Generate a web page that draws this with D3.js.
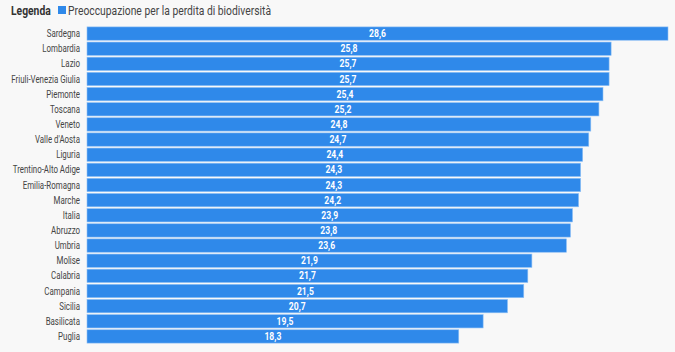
<!DOCTYPE html>
<html><head><meta charset="utf-8">
<script src="https://cdn.jsdelivr.net/npm/d3@7"></script>
<style>
html,body{margin:0;padding:0;background:#f8f8f8;}
svg{display:block;}
text{font-family:Roboto,"Noto Sans",sans-serif;}
</style></head><body>
<svg id="c" width="675" height="352"></svg>
<script>
const regions = ["Sardegna","Lombardia","Lazio","Friuli-Venezia Giulia","Piemonte","Toscana","Veneto","Valle d'Aosta","Liguria","Trentino-Alto Adige","Emilia-Romagna","Marche","Italia","Abruzzo","Umbria","Molise","Calabria","Campania","Sicilia","Basilicata","Puglia"];
const values = [28.6,25.8,25.7,25.7,25.4,25.2,24.8,24.7,24.4,24.3,24.3,24.2,23.9,23.8,23.6,21.9,21.7,21.5,20.7,19.5,18.3];
const seriesName = "Preoccupazione per la perdita di biodiversità";
const legendTitle = "Legenda";

const svg = d3.select("#c");
const color = "#2f89ea";
const x = d3.scaleLinear().domain([0, 28.6]).range([87, 668]);
const y = d3.scaleBand().domain(regions).range([26, 344]).paddingInner(0.12).paddingOuter(0.06);
const sx = 0.86;

// legend
const lg = svg.append("g").attr("transform","translate(11,15)");
lg.append("text").attr("transform",`scale(${sx},1)`).attr("font-size",12).attr("font-weight","bold").attr("fill","#333").text(legendTitle);
lg.append("rect").attr("x",47).attr("y",-9).attr("width",8).attr("height",8).attr("fill",color);
lg.append("text").attr("transform",`translate(57,0) scale(${sx},1)`).attr("font-size",12).attr("fill","#444").text(seriesName);

// bars
svg.append("g").selectAll("rect").data(values).join("rect")
  .attr("x", x(0)).attr("y",(d,i)=>y(regions[i]))
  .attr("width", d=>x(d)-x(0)).attr("height", y.bandwidth())
  .attr("fill", color).attr("stroke","#8fc0f5").attr("stroke-width",0.6);

// value labels
svg.append("g").selectAll("text").data(values).join("text")
  .attr("transform",(d,i)=>`translate(${(x(0)+x(d))/2},${y(regions[i])+y.bandwidth()/2}) scale(${sx},1)`)
  .attr("dy","0.35em").attr("text-anchor","middle").attr("font-size",10).attr("font-weight","bold").attr("fill","#fff")
  .text(d=>d3.format(".1f")(d).replace(".",","));

// category labels
svg.append("g").selectAll("text").data(regions).join("text")
  .attr("transform",d=>`translate(80,${y(d)+y.bandwidth()/2}) scale(0.79,1)`)
  .attr("dy","0.35em").attr("text-anchor","end").attr("font-size",10).attr("fill","#444")
  .text(d=>d);
</script></body></html>
